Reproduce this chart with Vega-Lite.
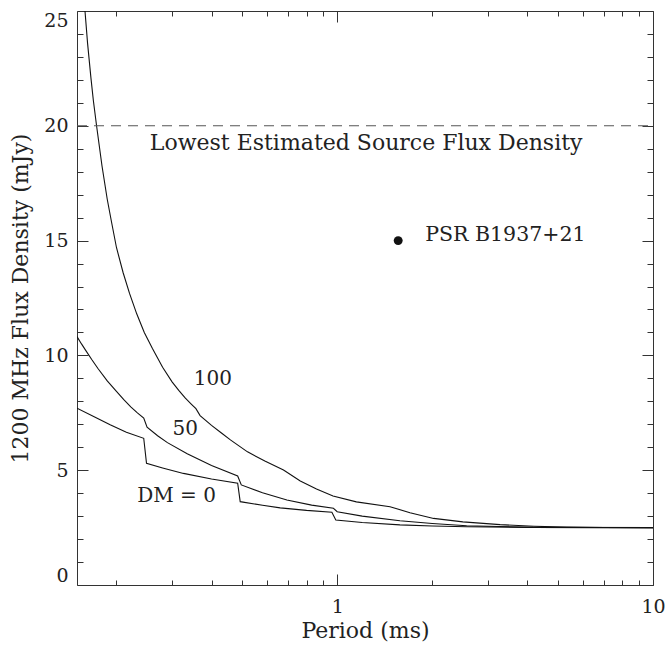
{
  "$schema": "https://vega.github.io/schema/vega-lite/v6.json",
  "width": 576,
  "height": 574,
  "autosize": {"type": "none"},
  "padding": {"left": 77, "top": 11, "right": 13, "bottom": 63},
  "background": "white",
  "config": {
    "view": {"stroke": "#333", "strokeWidth": 1},
    "font": "DejaVu Serif",
    "axis": {
      "grid": false,
      "domain": false,
      "tickColor": "#333",
      "tickWidth": 1,
      "labelFont": "DejaVu Serif",
      "labelFontSize": 19,
      "labelColor": "#222",
      "titleFont": "DejaVu Serif",
      "titleFontSize": 22,
      "titleFontWeight": "normal",
      "titleColor": "#222"
    }
  },
  "datasets": {
    "curves": [
      {"dm": "0", "p": 0.150, "s": 7.70},
      {"dm": "0", "p": 0.170, "s": 7.33},
      {"dm": "0", "p": 0.191, "s": 6.98},
      {"dm": "0", "p": 0.215, "s": 6.65},
      {"dm": "0", "p": 0.244, "s": 6.39},
      {"dm": "0", "p": 0.249, "s": 5.30},
      {"dm": "0", "p": 0.280, "s": 5.10},
      {"dm": "0", "p": 0.326, "s": 4.86},
      {"dm": "0", "p": 0.400, "s": 4.62},
      {"dm": "0", "p": 0.484, "s": 4.43},
      {"dm": "0", "p": 0.493, "s": 3.63},
      {"dm": "0", "p": 0.580, "s": 3.47},
      {"dm": "0", "p": 0.660, "s": 3.36},
      {"dm": "0", "p": 0.800, "s": 3.25},
      {"dm": "0", "p": 0.962, "s": 3.17},
      {"dm": "0", "p": 0.990, "s": 2.83},
      {"dm": "0", "p": 1.200, "s": 2.72},
      {"dm": "0", "p": 1.580, "s": 2.62},
      {"dm": "0", "p": 2.000, "s": 2.57},
      {"dm": "0", "p": 2.570, "s": 2.54},
      {"dm": "0", "p": 4.000, "s": 2.51},
      {"dm": "0", "p": 10.00, "s": 2.50},
      {"dm": "50", "p": 0.150, "s": 10.82},
      {"dm": "50", "p": 0.155, "s": 10.50},
      {"dm": "50", "p": 0.160, "s": 10.21},
      {"dm": "50", "p": 0.167, "s": 9.82},
      {"dm": "50", "p": 0.175, "s": 9.42},
      {"dm": "50", "p": 0.187, "s": 8.89},
      {"dm": "50", "p": 0.200, "s": 8.43},
      {"dm": "50", "p": 0.211, "s": 8.07},
      {"dm": "50", "p": 0.222, "s": 7.76},
      {"dm": "50", "p": 0.233, "s": 7.50},
      {"dm": "50", "p": 0.244, "s": 7.27},
      {"dm": "50", "p": 0.250, "s": 6.87},
      {"dm": "50", "p": 0.270, "s": 6.50},
      {"dm": "50", "p": 0.290, "s": 6.20},
      {"dm": "50", "p": 0.335, "s": 5.72},
      {"dm": "50", "p": 0.400, "s": 5.20},
      {"dm": "50", "p": 0.484, "s": 4.75},
      {"dm": "50", "p": 0.497, "s": 4.36},
      {"dm": "50", "p": 0.580, "s": 4.02},
      {"dm": "50", "p": 0.693, "s": 3.70},
      {"dm": "50", "p": 0.830, "s": 3.48},
      {"dm": "50", "p": 0.973, "s": 3.34},
      {"dm": "50", "p": 1.000, "s": 3.19},
      {"dm": "50", "p": 1.200, "s": 3.00},
      {"dm": "50", "p": 1.580, "s": 2.80},
      {"dm": "50", "p": 2.000, "s": 2.68},
      {"dm": "50", "p": 2.570, "s": 2.58},
      {"dm": "50", "p": 4.170, "s": 2.51},
      {"dm": "50", "p": 10.00, "s": 2.50},
      {"dm": "100", "p": 0.159, "s": 25.0},
      {"dm": "100", "p": 0.162, "s": 23.6},
      {"dm": "100", "p": 0.166, "s": 22.1},
      {"dm": "100", "p": 0.169, "s": 21.1},
      {"dm": "100", "p": 0.173, "s": 20.0},
      {"dm": "100", "p": 0.180, "s": 18.25},
      {"dm": "100", "p": 0.187, "s": 16.8},
      {"dm": "100", "p": 0.193, "s": 15.8},
      {"dm": "100", "p": 0.200, "s": 14.7},
      {"dm": "100", "p": 0.210, "s": 13.6},
      {"dm": "100", "p": 0.220, "s": 12.7},
      {"dm": "100", "p": 0.232, "s": 11.8},
      {"dm": "100", "p": 0.245, "s": 11.0},
      {"dm": "100", "p": 0.260, "s": 10.3},
      {"dm": "100", "p": 0.280, "s": 9.48},
      {"dm": "100", "p": 0.300, "s": 8.85},
      {"dm": "100", "p": 0.315, "s": 8.48},
      {"dm": "100", "p": 0.330, "s": 8.15},
      {"dm": "100", "p": 0.345, "s": 7.88},
      {"dm": "100", "p": 0.357, "s": 7.68},
      {"dm": "100", "p": 0.368, "s": 7.38},
      {"dm": "100", "p": 0.400, "s": 6.95},
      {"dm": "100", "p": 0.430, "s": 6.62},
      {"dm": "100", "p": 0.459, "s": 6.32},
      {"dm": "100", "p": 0.520, "s": 5.8},
      {"dm": "100", "p": 0.590, "s": 5.4},
      {"dm": "100", "p": 0.676, "s": 5.01},
      {"dm": "100", "p": 0.764, "s": 4.53},
      {"dm": "100", "p": 0.860, "s": 4.18},
      {"dm": "100", "p": 0.970, "s": 3.88},
      {"dm": "100", "p": 1.150, "s": 3.62},
      {"dm": "100", "p": 1.470, "s": 3.41},
      {"dm": "100", "p": 1.700, "s": 3.15},
      {"dm": "100", "p": 2.020, "s": 2.90},
      {"dm": "100", "p": 2.500, "s": 2.75},
      {"dm": "100", "p": 3.280, "s": 2.63},
      {"dm": "100", "p": 4.200, "s": 2.56},
      {"dm": "100", "p": 5.330, "s": 2.52},
      {"dm": "100", "p": 7.000, "s": 2.505},
      {"dm": "100", "p": 10.00, "s": 2.50}
    ],
    "threshold": [{"p0": 0.15, "p1": 10, "s": 20}],
    "psr": [{"p": 1.56, "s": 15.0, "t": "PSR B1937+21", "tp": 1.90}],
    "labels": [
      {"p": 1.235, "s": 18.95, "t": "Lowest Estimated Source Flux Density", "fs": 22},
      {"p": 0.404, "s": 8.71, "t": "100", "fs": 20},
      {"p": 0.330, "s": 6.53, "t": "50", "fs": 20},
      {"p": 0.310, "s": 3.60, "t": "DM = 0", "fs": 20}
    ]
  },
  "resolve": {"axis": {"x": "independent", "y": "independent"}},
  "layer": [
    {
      "data": {"name": "curves"},
      "mark": {"type": "line", "color": "#111", "strokeWidth": 1.1, "clip": true},
      "encoding": {
        "x": {
          "field": "p", "type": "quantitative",
          "scale": {"type": "log", "domain": [0.15, 10], "nice": false},
          "axis": {"orient": "bottom", "values": [1, 10], "format": "~g", "ticks": false, "tickSize": 0, "labelPadding": 12, "labelFlush": false,
                   "title": "Period (ms)", "titleX": 288, "titleY": 52, "titleBaseline": "alphabetic", "titleAlign": "center"}
        },
        "y": {
          "field": "s", "type": "quantitative",
          "scale": {"domain": [0, 25], "nice": false, "zero": false},
          "axis": {"orient": "left", "values": [0, 5, 10, 15, 20, 25], "ticks": false, "tickSize": 0, "labelPadding": 9, "labelFlush": true,
                   "title": "1200 MHz Flux Density (mJy)", "titleAngle": -90, "titleX": -50, "titleY": 287, "titleBaseline": "alphabetic", "titleAlign": "center"}
        },
        "detail": {"field": "dm", "type": "nominal"}
      }
    },
    {
      "data": {"name": "threshold"},
      "mark": {"type": "rule", "color": "#555", "strokeWidth": 1.1, "strokeDash": [10, 7]},
      "encoding": {
        "x": {
          "field": "p0", "type": "quantitative",
          "scale": {"type": "log", "domain": [0.15, 10], "nice": false},
          "axis": {"orient": "bottom", "values": [1, 10], "tickSize": 11, "offset": -11, "labels": false, "title": null}
        },
        "x2": {"field": "p1"},
        "y": {
          "field": "s", "type": "quantitative",
          "scale": {"domain": [0, 25], "nice": false, "zero": false},
          "axis": {"orient": "left", "values": [0, 5, 10, 15, 20, 25], "tickSize": 11, "offset": -11, "labels": false, "title": null}
        }
      }
    },
    {
      "data": {"name": "psr"},
      "mark": {"type": "circle", "color": "#111", "size": 80, "opacity": 1},
      "encoding": {
        "x": {
          "field": "p", "type": "quantitative",
          "scale": {"type": "log", "domain": [0.15, 10], "nice": false},
          "axis": {"orient": "top", "values": [1, 10], "tickSize": 11, "offset": -11, "labels": false, "title": null}
        },
        "y": {
          "field": "s", "type": "quantitative",
          "scale": {"domain": [0, 25], "nice": false, "zero": false},
          "axis": {"orient": "right", "values": [0, 5, 10, 15, 20, 25], "tickSize": 11, "offset": -11, "labels": false, "title": null}
        }
      }
    },
    {
      "data": {"name": "labels"},
      "mark": {"type": "text", "font": "DejaVu Serif", "color": "#222", "align": "center", "baseline": "alphabetic"},
      "encoding": {
        "x": {
          "field": "p", "type": "quantitative",
          "scale": {"type": "log", "domain": [0.15, 10], "nice": false},
          "axis": {"orient": "bottom", "values": [0.2, 0.3, 0.4, 0.5, 0.6, 0.7, 0.8, 0.9, 2, 3, 4, 5, 6, 7, 8, 9], "tickSize": 5, "offset": -5, "labels": false, "title": null}
        },
        "y": {
          "field": "s", "type": "quantitative",
          "scale": {"domain": [0, 25], "nice": false, "zero": false},
          "axis": {"orient": "left", "values": [1, 2, 3, 4, 6, 7, 8, 9, 11, 12, 13, 14, 16, 17, 18, 19, 21, 22, 23, 24], "tickSize": 6, "offset": -6, "labels": false, "title": null}
        },
        "text": {"field": "t"},
        "size": {"field": "fs", "type": "quantitative", "scale": null}
      }
    },
    {
      "data": {"name": "psr"},
      "mark": {"type": "text", "font": "DejaVu Serif", "fontSize": 20.5, "color": "#222", "align": "left", "baseline": "alphabetic"},
      "encoding": {
        "x": {
          "field": "tp", "type": "quantitative",
          "scale": {"type": "log", "domain": [0.15, 10], "nice": false},
          "axis": {"orient": "top", "values": [0.2, 0.3, 0.4, 0.5, 0.6, 0.7, 0.8, 0.9, 2, 3, 4, 5, 6, 7, 8, 9], "tickSize": 5, "offset": -5, "labels": false, "title": null}
        },
        "y": {
          "field": "s", "type": "quantitative",
          "scale": {"domain": [0, 25], "nice": false, "zero": false},
          "axis": {"orient": "right", "values": [1, 2, 3, 4, 6, 7, 8, 9, 11, 12, 13, 14, 16, 17, 18, 19, 21, 22, 23, 24], "tickSize": 6, "offset": -6, "labels": false, "title": null}
        },
        "text": {"field": "t"}
      }
    }
  ]
}
